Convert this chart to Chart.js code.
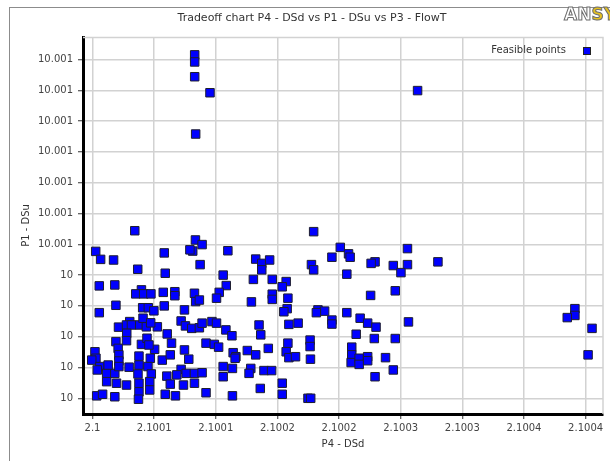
<!DOCTYPE html>
<html lang="en">
<head>
  <meta charset="UTF-8" />
  <title>Tradeoff chart P4 - DSd vs P1 - DSu vs P3 - FlowT</title>
  <script src="https://cdn.jsdelivr.net/npm/chart.js"></script>
  <style>
    body {
      margin: 0;
      padding: 0;
      background-color: #ffffff;
      overflow: hidden;
    }

    canvas {
      display: block;
    }
  </style>
</head>
<body>
  <canvas id="tradeoffChart" width="610" height="461"></canvas>

  <script>
    // tick positions and the (rounded) labels the original chart prints for them
    const xTicks = [2.1, 2.10005, 2.1001, 2.10015, 2.1002, 2.10025, 2.1003, 2.10035, 2.1004];
    const xTickLabels = ['2.1', '2.1001', '2.1001', '2.1002', '2.1002', '2.1003', '2.1003', '2.1004', '2.1004'];
    const yTicks = [10, 10.0001, 10.0002, 10.0003, 10.0004, 10.0005, 10.0006, 10.0007, 10.0008, 10.0009, 10.001, 10.0011];
    const yTickLabels = ['10', '10', '10', '10', '10', '10.001', '10.001', '10.001', '10.001', '10.001', '10.001', '10.001'];

    // feasible points: P4 - DSd (x) and P1 - DSu (y)
    const p4DSd = [
      2.1000829, 2.1000829, 2.1000829, 2.1000953, 2.1000837, 2.1002637, 2.1000343, 2.1000835, 2.1001794,
      2.1000026, 2.1000066, 2.1000171, 2.1000582, 2.1000889, 2.1000813, 2.1000790, 2.1001098, 2.1000873, 2.1000367,
      2.1000590, 2.1001324, 2.1001373, 2.1001437, 2.1001373, 2.1001305, 2.1001458, 2.1001060, 2.1001085,
      2.1000055, 2.1000181, 2.1000397, 2.1000351, 2.1000415, 2.1000474, 2.1000574, 2.1000668, 2.1000668,
      2.1000827, 2.1000837, 2.1000867, 2.1001028, 2.1001006, 2.1001289, 2.1001458, 2.1001458,
      2.1000055, 2.1000190, 2.1000407, 2.1000453, 2.1000498, 2.1000582, 2.1000746,
      2.1000302, 2.1000211, 2.1000276, 2.1000316, 2.1000383, 2.1000437, 2.1000526, 2.1000410, 2.1000472,
      2.1000719, 2.1000754, 2.1000805, 2.1000867, 2.1000889, 2.1000969, 2.1001006, 2.1001082, 2.1001131,
      2.1000606, 2.1000278, 2.1000276, 2.1000190, 2.1000397, 2.1000442, 2.1000504, 2.1000458, 2.1000641, 2.1000746,
      2.1000781, 2.1000921, 2.1000988, 2.1001023, 2.1001351, 2.1001365, 2.1001141, 2.1001163, 2.1001256, 2.1001324, 2.1001426,
      2.1000020, 2.1000028, 2.0999994, 2.1000060, 2.1000208, 2.1000214, 2.1000214, 2.1000297, 2.1000377, 2.1000377,
      2.1000369, 2.1000377, 2.1000377, 2.1000373, 2.1000469, 2.1000450, 2.1000477, 2.1000464, 2.1000464,
      2.1000566, 2.1000631, 2.1000719, 2.1000684, 2.1000603, 2.1000760, 2.1000827, 2.1000889, 2.1000827, 2.1000738,
      2.1000631, 2.1000590, 2.1000673, 2.1000921, 2.1001135, 2.1001361, 2.1001060, 2.1001060, 2.1001135, 2.1001157,
      2.1001284, 2.1001270, 2.1001391, 2.1001453,
      2.1000115, 2.1000181, 2.1000115, 2.1000195, 2.1000276, 2.1000034, 2.1000082, 2.1000181, 2.1000039, 2.1000127, 2.1000214,
      2.1002010, 2.1002077, 2.1002090, 2.1001942, 2.1002555, 2.1002802, 2.1002555, 2.1002440, 2.1002502, 2.1002292,
      2.1002260, 2.1001776, 2.1001794, 2.1002063,
      2.1001571, 2.1001539, 2.1002256, 2.1002456, 2.1001585, 2.1001579, 2.1001552, 2.1001829, 2.1001883, 2.1001816,
      2.1002063, 2.1002171, 2.1002232, 2.1002300, 2.1001593, 2.1001668, 2.1001942, 2.1001942, 2.1002563,
      2.1002139, 2.1002286, 2.1002456, 2.1001765, 2.1001765, 2.1001585, 2.1001571, 2.1001593, 2.1001647, 2.1001768,
      2.1002103, 2.1002103, 2.1002098, 2.1002163, 2.1002163, 2.1002232, 2.1002232, 2.1002377, 2.1002440, 2.1002292,
      2.1001539, 2.1001539, 2.1001748, 2.1001770,
      2.1003913, 2.1003913, 2.1003851, 2.1004052, 2.1004020
    ];

    const p1DSu = [
      10.001115, 10.001092, 10.001044, 10.000992, 10.000858, 10.000999, 10.000544, 10.000514, 10.000541,
      10.000477, 10.000451, 10.000449, 10.000472, 10.000499, 10.000478, 10.000482, 10.000479, 10.000434, 10.000419,
      10.000406, 10.000452, 10.000438, 10.000449, 10.000417, 10.000386, 10.000386, 10.000400, 10.000366,
      10.000365, 10.000368, 10.000352, 10.000339, 10.000339, 10.000339, 10.000344, 10.000346, 10.000333,
      10.000341, 10.000314, 10.000319, 10.000344, 10.000325, 10.000313, 10.000338, 10.000321,
      10.000278, 10.000302, 10.000294, 10.000294, 10.000284, 10.000300, 10.000287,
      10.000249, 10.000231, 10.000238, 10.000238, 10.000238, 10.000232, 10.000232, 10.000260, 10.000245,
      10.000251, 10.000235, 10.000227, 10.000229, 10.000244, 10.000249, 10.000244, 10.000222, 10.000203,
      10.000209, 10.000211, 10.000187, 10.000184, 10.000175, 10.000195, 10.000159, 10.000173, 10.000179, 10.000157,
      10.000127, 10.000179, 10.000175, 10.000166, 10.000238, 10.000206, 10.000148, 10.000135, 10.000155, 10.000141, 10.000162,
      10.000151, 10.000130, 10.000124, 10.000103, 10.000162, 10.000141, 10.000121, 10.000101, 10.000137, 10.000108,
      10.000079, 10.000049, 10.000021, 9.999997, 10.000130, 10.000103, 10.000079, 10.000054, 10.000027,
      10.000124, 10.000141, 10.000094, 10.000076, 10.000072, 10.000081, 10.000081, 10.000083, 10.000049, 10.000043,
      10.000046, 10.000013, 10.000008, 10.000018, 10.000008, 10.000032, 10.000103, 10.000070, 10.000097, 10.000130,
      10.000097, 10.000081, 10.000090, 10.000090,
      10.000081, 10.000081, 10.000054, 10.000049, 10.000043, 10.000008, 10.000013, 10.000005, 10.000092, 10.000108, 10.000103,
      10.000490, 10.000469, 10.000458, 10.000458, 10.000486, 10.000443, 10.000434, 10.000431, 10.000408, 10.000443,
      10.000438, 10.000434, 10.000417, 10.000403,
      10.000379, 10.000362, 10.000334, 10.000349, 10.000325, 10.000291, 10.000281, 10.000287, 10.000283, 10.000278,
      10.000278, 10.000260, 10.000244, 10.000231, 10.000240, 10.000244, 10.000254, 10.000241, 10.000248,
      10.000208, 10.000194, 10.000194, 10.000189, 10.000168, 10.000179, 10.000151, 10.000132, 10.000135, 10.000127,
      10.000166, 10.000141, 10.000116, 10.000130, 10.000110, 10.000135, 10.000122, 10.000132, 10.000092, 10.000070,
      10.000049, 10.000013, 10.000000, 10.000000,
      10.000291, 10.000269, 10.000262, 10.000227, 10.000141
    ];

    const FONT = 'DejaVu Sans';
    const TEXT = '#333333';
    const GRID = '#d2d2d2';

    // frame, title, logo and legend drawn around the chart area
    const decorations = {
      id: 'decorations',
      beforeDraw(chart) {
        const ctx = chart.ctx;
        ctx.save();
        ctx.fillStyle = '#ffffff';
        ctx.fillRect(0, 0, chart.width, chart.height);
        ctx.strokeStyle = '#8c8c8c';
        ctx.lineWidth = 1;
        ctx.strokeRect(9.5, 7.5, chart.width + 20, chart.height + 20);
        ctx.restore();
      },
      beforeDatasetsDraw(chart) {
        const ctx = chart.ctx;
        const a = chart.chartArea;
        ctx.save();
        ctx.strokeStyle = GRID;
        ctx.lineWidth = 1.5;
        ctx.beginPath();
        ctx.moveTo(a.left, a.top + 0.5);
        ctx.lineTo(a.right, a.top + 0.5);
        ctx.lineTo(a.right, a.bottom);
        ctx.stroke();
        ctx.restore();
      },
      afterDraw(chart) {
        const ctx = chart.ctx;
        ctx.save();

        ctx.fillStyle = TEXT;
        ctx.font = `11px "${FONT}"`;
        ctx.textAlign = 'center';
        ctx.textBaseline = 'middle';
        ctx.fillText('Tradeoff chart P4 - DSd vs P1 - DSu vs P3 - FlowT', 312, 18);

        // logo, cut off at the right like in the original
        ctx.font = `bold 17px "${FONT}"`;
        ctx.textAlign = 'left';
        ctx.lineWidth = 1;
        ctx.strokeStyle = '#6e6e6e';
        ctx.fillStyle = '#ffffff';
        ctx.fillText('AN', 564, 16);
        ctx.strokeText('AN', 564, 16);
        const anW = ctx.measureText('AN').width;
        ctx.fillStyle = '#e6c01e';
        ctx.fillText('SYS', 564 + anW, 16);
        ctx.strokeText('SYS', 564 + anW, 16);

        // legend
        ctx.font = `10px "${FONT}"`;
        ctx.fillStyle = TEXT;
        ctx.textAlign = 'right';
        ctx.fillText('Feasible points', 566, 50);
        ctx.fillStyle = '#0000ff';
        ctx.fillRect(583, 47, 8, 8);
        ctx.strokeStyle = '#222222';
        ctx.strokeRect(583.5, 47.5, 7, 7);

        ctx.restore();
      }
    };

    const ctx = document.getElementById('tradeoffChart').getContext('2d');
    const chart = new Chart(ctx, {
      type: 'scatter',
      data: {
        datasets: [{
          label: 'Feasible points',
          data: p4DSd.map((x, i) => ({ x: x, y: p1DSu[i] })),
          pointStyle: 'rect',
          pointRadius: 6,
          pointHoverRadius: 6,
          backgroundColor: '#0000ff',
          borderColor: '#1e1e30',
          borderWidth: 1
        }]
      },
      options: {
        responsive: false,
        animation: false,
        devicePixelRatio: 1,
        layout: {
          padding: { top: 37, right: 4, left: 0, bottom: 0 }
        },
        plugins: {
          legend: { display: false },
          tooltip: { enabled: false }
        },
        scales: {
          x: {
            type: 'linear',
            min: 2.0999923,
            max: 2.1004141,
            afterBuildTicks: (scale) => {
              scale.ticks = xTicks.map(v => ({ value: v }));
            },
            afterFit: (scale) => {
              scale.height = 47;
            },
            ticks: {
              callback: (value, index) => xTickLabels[index],
              autoSkip: false,
              maxRotation: 0,
              padding: 3,
              color: '#444444',
              font: { family: FONT, size: 10 }
            },
            grid: {
              color: GRID,
              lineWidth: 1.5,
              tickLength: 5,
              tickColor: '#333333',
              tickWidth: 1
            },
            border: { color: '#000000', width: 3 },
            title: {
              display: true,
              text: 'P4 - DSd',
              color: TEXT,
              font: { family: FONT, size: 10 },
              padding: { top: 0, bottom: 11 }
            }
          },
          y: {
            type: 'linear',
            min: 9.999949,
            max: 10.001173,
            afterBuildTicks: (scale) => {
              scale.ticks = yTicks.map(v => ({ value: v }));
            },
            afterFit: (scale) => {
              scale.width = 83;
            },
            ticks: {
              callback: (value, index) => yTickLabels[index],
              autoSkip: false,
              padding: 5,
              color: '#444444',
              font: { family: FONT, size: 10 }
            },
            grid: {
              color: GRID,
              lineWidth: 1.5,
              tickLength: 5,
              tickColor: '#333333',
              tickWidth: 1
            },
            border: { color: '#000000', width: 3 },
            title: {
              display: true,
              text: 'P1 - DSu',
              color: TEXT,
              font: { family: FONT, size: 10 },
              padding: { top: 20, bottom: 0 }
            }
          }
        }
      },
      plugins: [decorations]
    });
  </script>
</body>
</html>
